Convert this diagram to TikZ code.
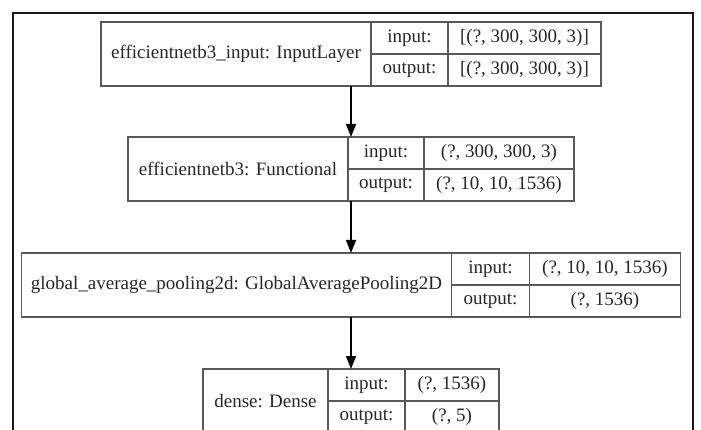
\documentclass[tikz,border=0pt]{standalone}
\usepackage{fontspec}
\setmainfont{Liberation Serif}
\usetikzlibrary{arrows.meta,fit}

\begin{document}
\begin{tikzpicture}[
      x=1pt, y=-1pt,
      cell/.style={
        draw=black!65,
        line width=1.3pt,
        inner sep=0pt,
        outer sep=0pt,
        text=black!85,
        font=\fontsize{19}{22}\selectfont
      },
      layername/.style={
        cell,
        minimum height=64,
        anchor=north west
      },
      port/.style={
        cell,
        minimum height=32,
        minimum width=77,
        anchor=north west
      },
      dims/.style={
        cell,
        minimum height=32,
        anchor=north west
      },
      outline/.style={
        inner sep=0pt,
        outer sep=0pt
      },
      arrow/.style={
        -{Triangle[length=13pt,width=10pt]},
        line width=1.5pt
      },
      frame/.style={
        draw=black!90,
        line width=2pt
      }
    ]
    \clip (0,0) rectangle (701,430);

    % surrounding frame, open at the bottom
    \draw[frame] (13.3,440) |- (693.3,13.3) -- (693.3,440);

    \node[layername,minimum width=270] (n1) at (101,22) {efficientnetb3\_input: InputLayer};
    \node[port] (n1in) at (n1.north east) {input:};
    \node[port] (n1out) at (n1in.south west) {output:};
    \node[dims,minimum width=153] (n1a) at (n1in.north east) {[(?, 300, 300, 3)]};
    \node[dims,minimum width=153] (n1b) at (n1a.south west) {[(?, 300, 300, 3)]};
    \node[outline,fit=(n1)(n1b)] (layer1) {};

    \node[layername,minimum width=220] (n2) at (128,137) {efficientnetb3: Functional};
    \node[port,minimum width=76] (n2in) at (n2.north east) {input:};
    \node[port,minimum width=76] (n2out) at (n2in.south west) {output:};
    \node[dims,minimum width=150] (n2a) at (n2in.north east) {(?, 300, 300, 3)};
    \node[dims,minimum width=150] (n2b) at (n2a.south west) {(?, 10, 10, 1536)};
    \node[outline,fit=(n2)(n2b)] (layer2) {};

    \node[layername,minimum width=430] (n3) at (21.5,253) {global\_average\_pooling2d: GlobalAveragePooling2D};
    \node[port,minimum width=78] (n3in) at (n3.north east) {input:};
    \node[port,minimum width=78] (n3out) at (n3in.south west) {output:};
    \node[dims,minimum width=151] (n3a) at (n3in.north east) {(?, 10, 10, 1536)};
    \node[dims,minimum width=151] (n3b) at (n3a.south west) {(?, 1536)};
    \node[outline,fit=(n3)(n3b)] (layer3) {};

    \node[layername,minimum width=125] (n4) at (203,369) {dense: Dense};
    \node[port] (n4in) at (n4.north east) {input:};
    \node[port] (n4out) at (n4in.south west) {output:};
    \node[dims,minimum width=94] (n4a) at (n4in.north east) {(?, 1536)};
    \node[dims,minimum width=94] (n4b) at (n4a.south west) {(?, 5)};
    \node[outline,fit=(n4)(n4b)] (layer4) {};

    \draw[arrow] (layer1) -- (layer2);
    \draw[arrow] (layer2) -- (layer3);
    \draw[arrow] (layer3) -- (layer4);

  \end{tikzpicture}
\end{document}
